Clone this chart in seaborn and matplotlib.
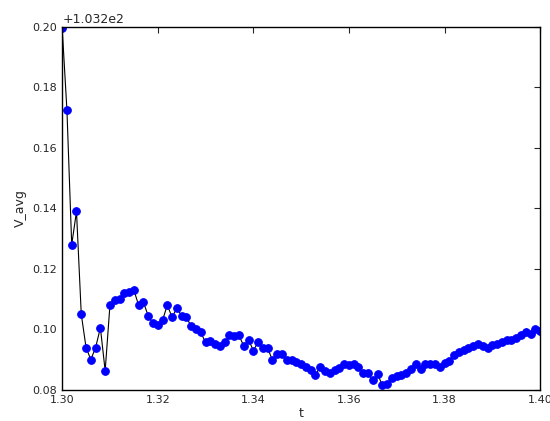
import numpy as np
import matplotlib
matplotlib.use("Agg")
import matplotlib.pyplot as plt
import matplotlib.ticker as mticker
import seaborn as sns

# t sampled every 0.001 from 1.300 to 1.400
t = np.round(np.arange(1.300, 1.4005, 0.001), 3)
v_offset = 103.2
v_frac = [
    0.1998, 0.1725, 0.128, 0.139, 0.105, 0.094, 0.090, 0.094, 0.1005, 0.0863,
    0.108, 0.1097, 0.110, 0.112, 0.1125, 0.113, 0.108, 0.109, 0.1045, 0.102,
    0.1015, 0.103, 0.108, 0.104, 0.107, 0.1045, 0.104, 0.101, 0.100, 0.099,
    0.0957, 0.096, 0.095, 0.0945, 0.0957, 0.098, 0.0977, 0.098, 0.0945, 0.0966,
    0.093, 0.0957, 0.0938, 0.0938, 0.0898, 0.092, 0.092, 0.090, 0.0898, 0.0893,
    0.0885,
    0.0877, 0.0866, 0.0850, 0.0877, 0.0862, 0.0855, 0.0867, 0.0873, 0.0887, 0.0882,
    0.0887, 0.0877, 0.0855, 0.0855, 0.0832, 0.0852, 0.0815, 0.0820, 0.0840, 0.0845,
    0.0850, 0.0855, 0.0870, 0.0887, 0.0870, 0.0887, 0.0887, 0.0887, 0.0877, 0.0890,
    0.0895, 0.0914, 0.0925, 0.0933, 0.0940, 0.0945, 0.0953, 0.0945, 0.0940, 0.0947,
    0.0950, 0.0957, 0.0965, 0.0965, 0.0972, 0.0980, 0.0991, 0.0985, 0.1002, 0.0996,
]
v_avg = [v_offset + f for f in v_frac]

sns.set_style("white")
plt.rcParams["font.family"] = ["DejaVu Sans"]

fig, ax = plt.subplots(figsize=(5.5, 4.21), dpi=100)
sns.lineplot(x=t, y=v_avg, ax=ax, color="black", linewidth=0.8,
             marker="o", markersize=5.5, markerfacecolor="blue",
             markeredgecolor="blue")
ax.set_xlim(1.30, 1.40)
ax.set_ylim(v_offset + 0.08, v_offset + 0.20)
ax.set_xticks([1.30, 1.32, 1.34, 1.36, 1.38, 1.40])
ax.set_yticks([v_offset + k for k in (0.08, 0.10, 0.12, 0.14, 0.16, 0.18, 0.20)])
fmt = mticker.ScalarFormatter(useOffset=v_offset)
ax.yaxis.set_major_formatter(fmt)
ax.set_xlabel("t", fontsize=9, labelpad=2)
ax.set_ylabel("V_avg", fontsize=9)
ax.tick_params(direction="in", top=True, right=True, labelsize=8, length=4)
for s in ax.spines.values():
    s.set_color("black")
    s.set_linewidth(1)
ax.yaxis.get_offset_text().set_fontsize(9)
fig.subplots_adjust(left=0.113, right=0.982, top=0.936, bottom=0.074)
fig.savefig("out.png", dpi=100)
